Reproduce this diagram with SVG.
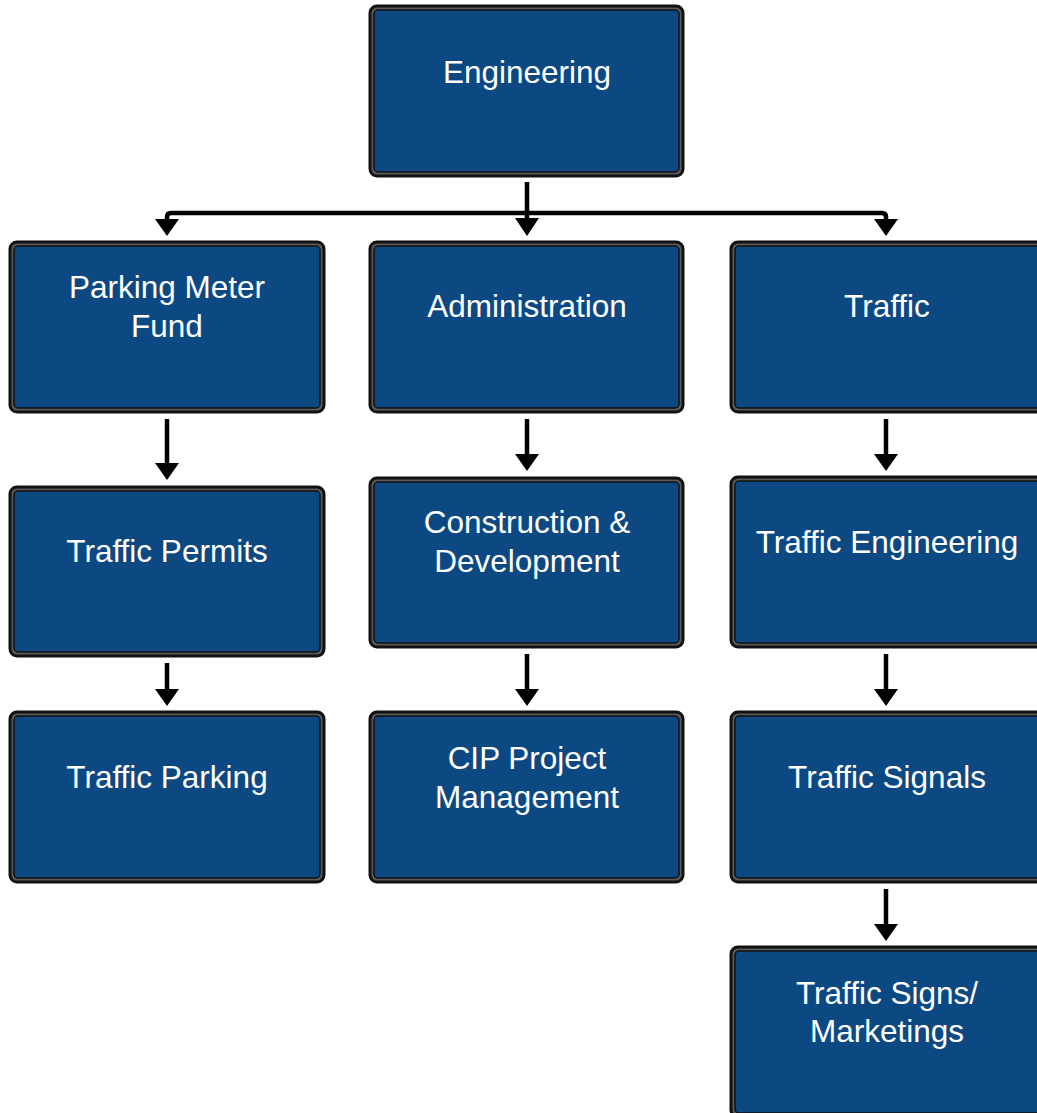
<svg xmlns="http://www.w3.org/2000/svg" width="1037" height="1113" viewBox="0 0 1037 1113">
<defs>
<style>
.o{fill:#5a5a5a;stroke:#111;stroke-width:3}
.i{fill:#0c4983;stroke:#111;stroke-width:1.5}
.t{font-family:"Liberation Sans",Arial,sans-serif;font-size:31.5px;fill:#fff;text-anchor:middle}
.c{stroke:#000;stroke-width:4.5;fill:none}
.h{fill:#000}
</style>
</defs>
<rect width="1037" height="1113" fill="#fff"/>
<g id="connectors">
<path class="c" d="M527 182V218"/>
<path class="c" d="M167 228V217Q167 213 171 213H882Q886 213 886 217V228"/>
<polygon class="h" points="515,218 539,218 527,236"/>
<polygon class="h" points="155,219 179,219 167,236"/>
<polygon class="h" points="874,219 898,219 886,236"/>
<path class="c" d="M167 419V464"/><polygon class="h" points="155,463 179,463 167,480"/>
<path class="c" d="M167 663V690"/><polygon class="h" points="155,689 179,689 167,706"/>
<path class="c" d="M527 419V455"/><polygon class="h" points="515,454 539,454 527,471"/>
<path class="c" d="M527 654V690"/><polygon class="h" points="515,689 539,689 527,706"/>
<path class="c" d="M886 419V455"/><polygon class="h" points="874,454 898,454 886,471"/>
<path class="c" d="M886 654V690"/><polygon class="h" points="874,689 898,689 886,706"/>
<path class="c" d="M886 889V925"/><polygon class="h" points="874,924 898,924 886,941"/>
</g>
<g id="engineering"><rect class="o" x="370" y="6" width="313" height="170" rx="7"/><rect class="i" x="374" y="10" width="305" height="162" rx="4"/><text class="t" x="527" y="83">Engineering</text></g>
<g id="parking-meter-fund"><rect class="o" x="10" y="242" width="314" height="170" rx="7"/><rect class="i" x="14" y="246" width="306" height="162" rx="4"/><text class="t" x="167" y="298">Parking Meter</text><text class="t" x="167" y="337">Fund</text></g>
<g id="administration"><rect class="o" x="370" y="242" width="313" height="170" rx="7"/><rect class="i" x="374" y="246" width="305" height="162" rx="4"/><text class="t" x="527" y="317">Administration</text></g>
<g id="traffic"><rect class="o" x="731" y="242" width="313" height="170" rx="7"/><rect class="i" x="735" y="246" width="305" height="162" rx="4"/><text class="t" x="887" y="317">Traffic</text></g>
<g id="traffic-permits"><rect class="o" x="10" y="487" width="314" height="169" rx="7"/><rect class="i" x="14" y="491" width="306" height="161" rx="4"/><text class="t" x="167" y="562">Traffic Permits</text></g>
<g id="construction-development"><rect class="o" x="370" y="478" width="313" height="169" rx="7"/><rect class="i" x="374" y="482" width="305" height="161" rx="4"/><text class="t" x="527" y="533">Construction &amp;</text><text class="t" x="527" y="572">Development</text></g>
<g id="traffic-engineering"><rect class="o" x="731" y="477" width="313" height="170" rx="7"/><rect class="i" x="735" y="481" width="305" height="162" rx="4"/><text class="t" x="887" y="553">Traffic Engineering</text></g>
<g id="traffic-parking"><rect class="o" x="10" y="712" width="314" height="170" rx="7"/><rect class="i" x="14" y="716" width="306" height="162" rx="4"/><text class="t" x="167" y="788">Traffic Parking</text></g>
<g id="cip-project-management"><rect class="o" x="370" y="712" width="313" height="170" rx="7"/><rect class="i" x="374" y="716" width="305" height="162" rx="4"/><text class="t" x="527" y="769">CIP Project</text><text class="t" x="527" y="808">Management</text></g>
<g id="traffic-signals"><rect class="o" x="731" y="712" width="313" height="170" rx="7"/><rect class="i" x="735" y="716" width="305" height="162" rx="4"/><text class="t" x="887" y="788">Traffic Signals</text></g>
<g id="traffic-signs-marketings"><rect class="o" x="731" y="947" width="313" height="170" rx="7"/><rect class="i" x="735" y="951" width="305" height="162" rx="4"/><text class="t" x="887" y="1004">Traffic Signs/</text><text class="t" x="887" y="1042">Marketings</text></g>
</svg>
